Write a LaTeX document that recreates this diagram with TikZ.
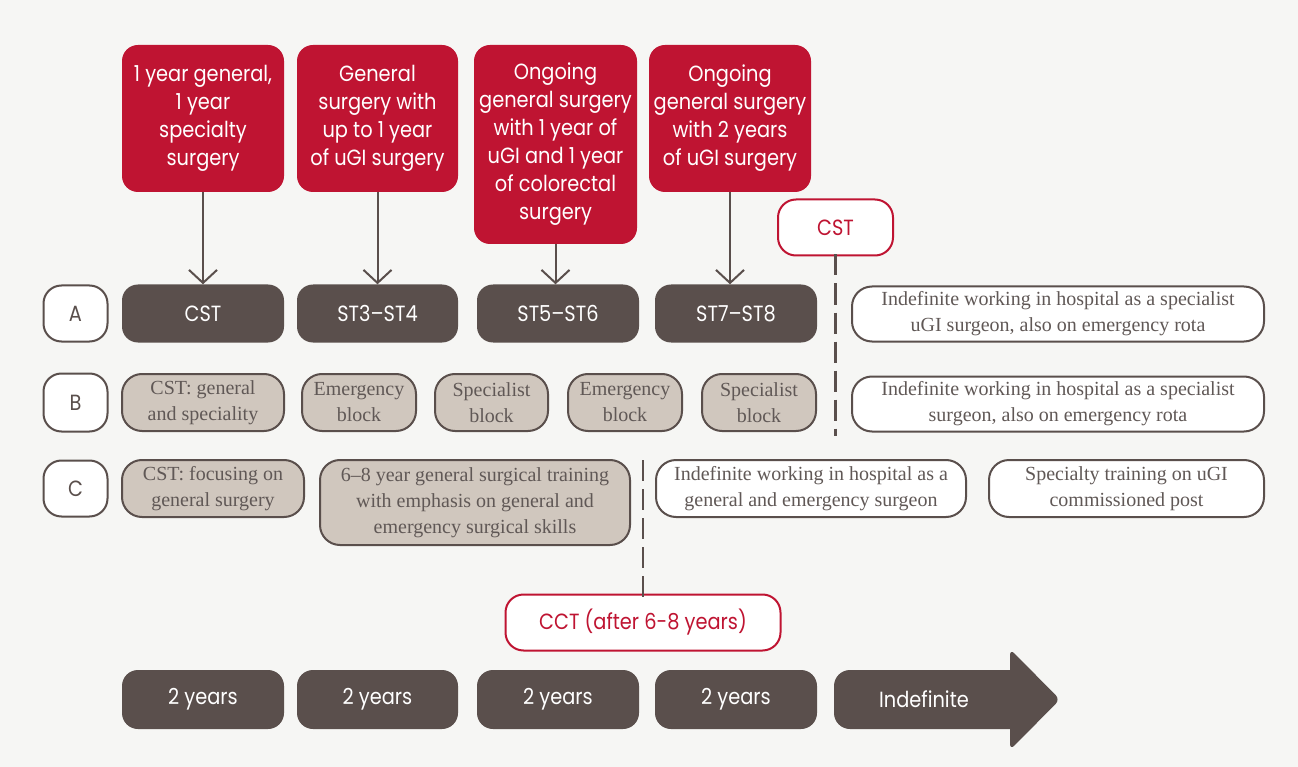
\documentclass[tikz,border=0pt]{standalone}
\usepackage{fontspec}
\setmainfont{Liberation Serif}
\newfontfamily\geofont[FakeStretch=0.88]{Poppins}
\usetikzlibrary{arrows.meta}

\begin{document}
\begin{tikzpicture}[x=1pt, y=-1pt,
    every node/.style={inner sep=2pt, align=center},
    geotext/.style={font=\geofont\fontsize{22}{28}\selectfont},
    serif/.style={font=\fontsize{20}{26}\selectfont, text=trText},
    redbox/.style={geotext, fill=trRed, text=white, rounded corners=16pt,
      minimum width=162pt, minimum height=147pt},
    darkbox/.style={geotext, fill=trDark, text=white, rounded corners=16pt,
      minimum width=162pt, minimum height=58pt},
    rowlabel/.style={geotext, fill=white, draw=trDark, line width=2pt, text=trDark,
      rounded corners=18pt, minimum width=64pt, minimum height=56pt},
    tanbox/.style={serif, fill=trTan, draw=trDark, line width=2pt,
      rounded corners=20pt, minimum height=57pt, inner sep=1pt},
    whitebox/.style={serif, fill=white, draw=trDark, line width=2pt,
      rounded corners=20pt, minimum height=55pt, inner sep=1pt},
    markbox/.style={geotext, fill=white, draw=trRed, line width=2pt, text=trRed,
      rounded corners=18pt, minimum height=56pt},
    feed/.style={draw=trDark, line width=2pt,
      -{Straight Barb[length=13pt, width=28pt, line width=2pt]}},
    milestone/.style={draw=trDark, line width=2.8pt, dash pattern=on 21pt off 8pt}
  ]
    % palette picked from the printed chart
    \definecolor{trRed}{RGB}{191,20,50}
    \definecolor{trDark}{RGB}{90,79,76}
    \definecolor{trTan}{RGB}{208,199,190}
    \definecolor{trText}{RGB}{96,88,86}
    \definecolor{trBack}{RGB}{246,246,244}

    % page, 1298 x 767 (1pt = 1px, y runs downwards)
    \fill[trBack] (0,0) rectangle (1298,767);

    % what each stage covers
    \node[redbox] (r1) at (203,118.5) {1 year general,\\1 year\\specialty\\surgery};
    \node[redbox, minimum width=161pt] (r2) at (377.5,118.5) {General\\surgery with\\up to 1 year\\of uGI surgery};
    \node[redbox, minimum width=163pt, minimum height=199pt] (r3) at (555.5,144.5)
      {Ongoing\\general surgery\\with 1 year of\\uGI and 1 year\\of colorectal\\surgery};
    \node[redbox] (r4) at (730,118.5) {Ongoing\\general surgery\\with 2 years\\of uGI surgery};

    % route A
    \node[rowlabel] (la) at (75.5,313.5) {A};
    \node[darkbox] (a1) at (203,313.5) {CST};
    \node[darkbox, minimum width=161pt] (a2) at (377.5,313.5) {ST3–ST4};
    \node[darkbox] (a3) at (558,313.5) {ST5–ST6};
    \node[darkbox] (a4) at (736,313.5) {ST7–ST8};
    \node[whitebox, minimum width=412pt] (a5) at (1058,314)
      {Indefinite working in hospital as a specialist\\uGI surgeon, also on emergency rota};

    \draw[feed] (r1.south) -- (a1.north);
    \draw[feed] (r2.south) -- (a2.north);
    \draw[feed] (r3.south) -- (r3.south |- a3.north);
    \draw[feed] (r4.south) -- (r4.south |- a4.north);

    % route B
    \node[rowlabel, minimum height=58pt] (lb) at (75.5,402.5) {B};
    \node[tanbox, minimum width=162pt] (b1) at (203,402.5) {CST: general\\and speciality};
    \node[tanbox, minimum width=114pt] (b2) at (359,402.5) {Emergency\\block};
    \node[tanbox, minimum width=113pt] (b3) at (491.5,402.5) {Specialist\\block};
    \node[tanbox, minimum width=114pt] (b4) at (625,402.5) {Emergency\\block};
    \node[tanbox, minimum width=114pt] (b5) at (759,402.5) {Specialist\\block};
    \node[whitebox, minimum width=412pt] (b6) at (1058,404)
      {Indefinite working in hospital as a specialist\\surgeon, also on emergency rota};

    % route C
    \node[rowlabel] (lc) at (75.5,488.5) {C};
    \node[tanbox, minimum width=182pt] (c1) at (213,488.5) {CST: focusing on\\general surgery};
    \node[tanbox, minimum width=310pt, minimum height=85pt] (c2) at (475,502.5)
      {6–8 year general surgical training\\with emphasis on general and\\emergency surgical skills};
    \node[whitebox, minimum width=310pt, minimum height=57pt] (c3) at (811,488.5)
      {Indefinite working in hospital as a\\general and emergency surgeon};
    \node[whitebox, minimum width=275pt, minimum height=57pt] (c4) at (1126.5,488.5)
      {Specialty training on uGI\\commissioned post};

    % end of training markers
    \node[markbox, minimum width=115pt] (cst) at (835.5,227.5) {CST};
    \coordinate (cstEnd) at (835.5,436);
    \draw[milestone] ([yshift=2pt]cst.south) -- (cstEnd);

    \node[markbox, minimum width=275pt] (cct) at (643,622.5) {CCT (after 6-8 years)};
    \coordinate (cctTop) at (643,460);
    \draw[milestone] (cctTop) -- ([yshift=-3pt]cct.north);

    % time line
    \node[darkbox, minimum height=59pt] (y1) at (203,699.5) {2 years};
    \node[darkbox, minimum width=161pt, minimum height=59pt] (y2) at (377.5,699.5) {2 years};
    \node[darkbox, minimum height=59pt] (y3) at (558,699.5) {2 years};
    \node[darkbox, minimum height=59pt] (y4) at (736,699.5) {2 years};
    \fill[trDark] (920,670) -- (1010,670) [rounded corners=6pt] -- (1010,649)
      -- (1060,699.5) -- (1010,750) [sharp corners] -- (1010,729)
      [rounded corners=16pt] -- (834,729) -- (834,670) [sharp corners] -- cycle;
    \node[geotext, text=white] (y5) at (924,699.5) {Indefinite};
\end{tikzpicture}
\end{document}
